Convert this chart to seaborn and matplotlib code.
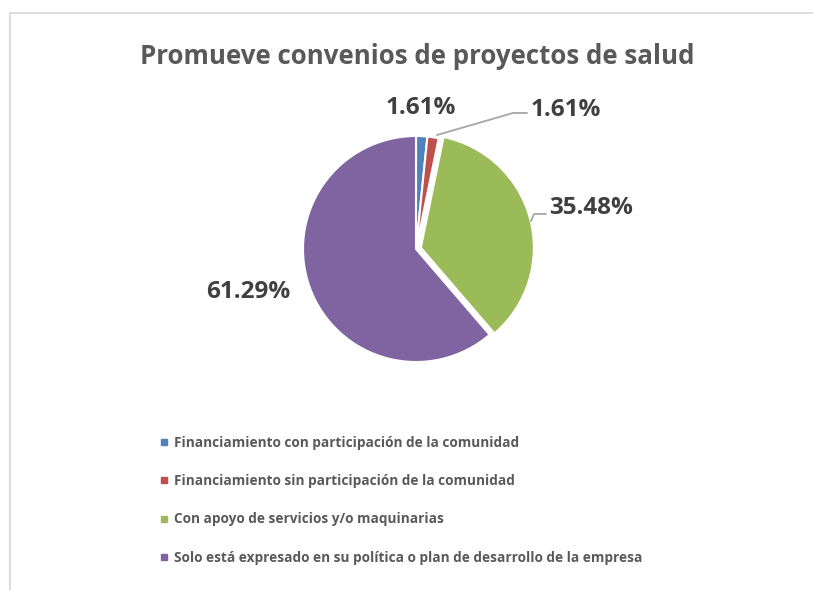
import matplotlib
matplotlib.use("Agg")
import matplotlib.pyplot as plt
import seaborn as sns
from matplotlib.lines import Line2D
from matplotlib.patches import Rectangle

categories = [
    "Financiamiento con participación de la comunidad",
    "Financiamiento sin participación de la comunidad",
    "Con apoyo de servicios y/o maquinarias",
    "Solo está expresado en su política o plan de desarrollo de la empresa",
]
values = [1.61, 1.61, 35.48, 61.29]
labels = ["1.61%", "1.61%", "35.48%", "61.29%"]
title = "Promueve convenios de proyectos de salud"

sns.set_theme(style="white")
plt.rcParams['font.family'] = ['Open Sans', 'DejaVu Sans']

colors = ["#4F81BD", "#C0504D", "#9BBB59", "#8064A2"]
W, H = 813, 590
fig = plt.figure(figsize=(W / 100, H / 100), dpi=100)
ax = fig.add_axes([0, 0, 1, 1])
ax.set_xlim(0, W)
ax.set_ylim(0, H)
ax.set_aspect('equal')
ax.axis('off')

# chart border
ax.add_patch(Rectangle((10, -5), W, H - 13 + 5, fill=False, edgecolor="#D9D9D9", lw=1.3))

cx, cy, r = 416, H - 249, 113
wedges, _ = ax.pie(values, colors=colors, startangle=90, counterclock=False,
                   center=(cx, cy), radius=r, explode=[0, 0, 5, 0],
                   wedgeprops=dict(edgecolor="white", linewidth=1.5))
ax.set_xlim(0, W)
ax.set_ylim(0, H)

txt = "#404040"
fs = 17.5
kw = dict(ha='center', va='center', fontsize=fs, fontweight='bold', color=txt)
ax.text(421, H - 108, labels[0], **kw)
ax.text(566, H - 110, labels[1], **kw)
ax.text(591, H - 208, labels[2], **kw)
ax.text(248, H - 292, labels[3], **kw)

lc = "#A6A6A6"
ax.plot([437, 513, 527], [H - 135, H - 113, H - 113], color=lc, lw=1.3)
ax.plot([531, 534, 546], [H - 221, H - 214, H - 214], color=lc, lw=1.3)

ax.text(417, H - 57, title, ha='center', va='center', fontsize=18.6, fontweight='bold', color="#595959")

handles = [Line2D([0], [0], marker='s', linestyle='none', markersize=5,
                  markerfacecolor=c, markeredgecolor=c) for c in colors]
leg = fig.legend(handles, categories, loc='upper left', bbox_to_anchor=(160 / W, 1 - 436 / H),
                 frameon=False, fontsize=9.8, labelspacing=1.78, handlelength=0.6,
                 handletextpad=0.4, borderaxespad=0, borderpad=0)
for t in leg.get_texts():
    t.set_color("#595959")
    t.set_fontweight('bold')

fig.savefig("out.png", dpi=100)
